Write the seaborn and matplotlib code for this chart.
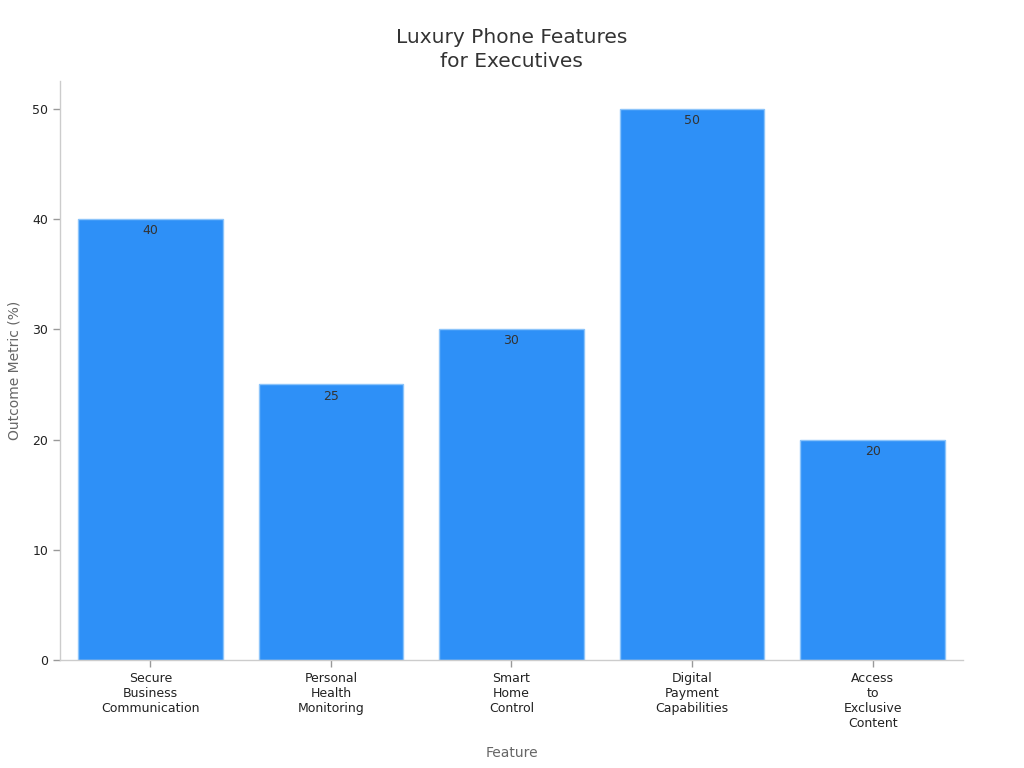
import pandas as pd
import matplotlib.pyplot as plt
import seaborn as sns

# chart data
features = [
    "Secure\nBusiness\nCommunication",
    "Personal\nHealth\nMonitoring",
    "Smart\nHome\nControl",
    "Digital\nPayment\nCapabilities",
    "Access\nto\nExclusive\nContent",
]
outcome_pct = [40, 25, 30, 50, 20]

df = pd.DataFrame({"Feature": features, "Outcome": outcome_pct})

sns.set_theme(style="white")
plt.rcParams['font.family'] = ['DejaVu Sans']

fig = plt.figure(figsize=(10.24, 7.68), dpi=100)
ax = fig.add_axes([0.0586, 0.141, 0.8818, 0.754])

sns.barplot(data=df, x="Feature", y="Outcome", color="#2E90F7", saturation=1,
            width=0.8, edgecolor="#8CC4FA", linewidth=1, ax=ax)

# value labels just inside the top of each bar
for cont in ax.containers:
    ax.bar_label(cont, labels=[f"{v:g}" for v in outcome_pct], label_type="edge",
                 padding=-13, fontsize=9, color="#333333")

ax.set_xlim(-0.5, 4.5)
ax.set_ylim(0, 52.6)
ax.set_yticks([0, 10, 20, 30, 40, 50])

for side in ["top", "right"]:
    ax.spines[side].set_visible(False)
for side in ["left", "bottom"]:
    ax.spines[side].set_color("#cccccc")
    ax.spines[side].set_linewidth(1)

ax.tick_params(axis="both", which="both", length=5, width=1, color="#999999",
               labelsize=9, labelcolor="#222222", bottom=True, left=True)

ax.set_xlabel("Feature", fontsize=10, color="#666666", labelpad=12)
ax.set_ylabel("Outcome Metric (%)", fontsize=10, color="#666666", labelpad=8)
ax.set_title("Luxury Phone Features\nfor Executives", fontsize=14.5, color="#333333",
             pad=10, linespacing=1.3)

fig.savefig("out.png", dpi=100)
